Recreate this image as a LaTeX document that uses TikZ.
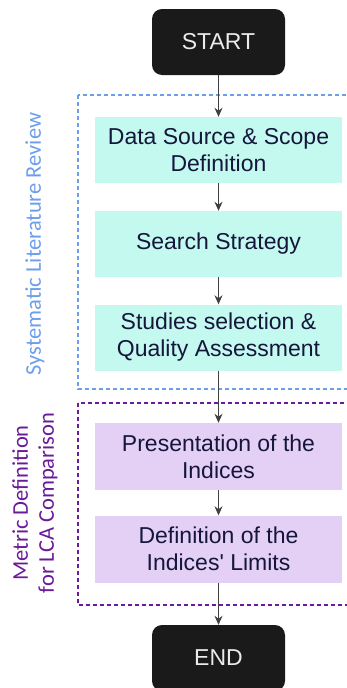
\documentclass[tikz,border=0pt]{standalone}
\usepackage{fontspec}
\setmainfont{Liberation Sans}
\newfontfamily\labelfont{Carlito}
\usetikzlibrary{arrows.meta,positioning}
\definecolor{slrblue}{HTML}{6D9EEB}
\definecolor{slrfill}{HTML}{C3F9EF}
\definecolor{metpurple}{HTML}{6A1B9A}
\definecolor{metfill}{HTML}{E4D0F5}
\definecolor{boxtext}{HTML}{16163D}
\definecolor{termfill}{HTML}{1A1A1A}

\begin{document}
\begin{tikzpicture}
			[x=1pt, y=-1pt,
			 term/.style={rectangle, rounded corners=10pt, fill=termfill, text=white!92!black, minimum width=133pt, minimum height=66pt, font=\fontsize{23}{27}\selectfont},
			 slr/.style={rectangle, fill=slrfill, text=boxtext, minimum width=247pt, minimum height=66pt, align=center, font=\fontsize{23}{27}\selectfont},
			 met/.style={rectangle, fill=metfill, text=boxtext, minimum width=247pt, minimum height=67pt, align=center, font=\fontsize{23}{27}\selectfont},
			 flow/.style={-{Stealth[length=9pt,width=8pt]}, line width=1.3pt, draw=black!75},
			 frame/.style={dashed, line width=1.2pt, dash pattern=on 4pt off 3pt}]
			\useasboundingbox (0,0) rectangle (347,688);
          	% dashed frames of the two phases
          	\draw[frame, draw=slrblue] (78,95) rectangle (352,389);
          	\draw[frame, draw=metpurple] (78,403) rectangle (352,605);
          	\node[rotate=90, text=slrblue, font=\labelfont\fontsize{22.5}{26}\selectfont] (SLR) at (35,244) {Systematic Literature Review};
          	\node[rotate=90, text=metpurple, align=center, font=\labelfont\fontsize{22.5}{26}\selectfont] (MET) at (35,503) {Metric Definition\\for LCA Comparison};
           
          	\node[term] (S) at (218.5,42) {START};
          	\node[slr] (A1) at (218.5,150) {Data Source \& Scope\\Definition};
          	\node[slr] (A2) at (218.5,244) {Search Strategy};
          	\node[slr] (A3) at (218.5,337.5) {Studies selection \&\\Quality Assessment};
          	\node[met] (B1) at (218.5,456.5) {Presentation of the\\Indices};
          	\node[met] (B2) at (218.5,549) {Definition of the\\Indices\textquotesingle{} Limits};
          	\node[term] (E) at (218.5,658) {END};
           
            \draw[flow] (S) -- (A1);
            \draw[flow] (A1) -- (A2);
            \draw[flow] (A2) -- (A3);
            \draw[flow] (A3) -- (B1);
            \draw[flow] (B1) -- (B2);
            \draw[flow] (B2) -- (E);
			\end{tikzpicture}
\end{document}
